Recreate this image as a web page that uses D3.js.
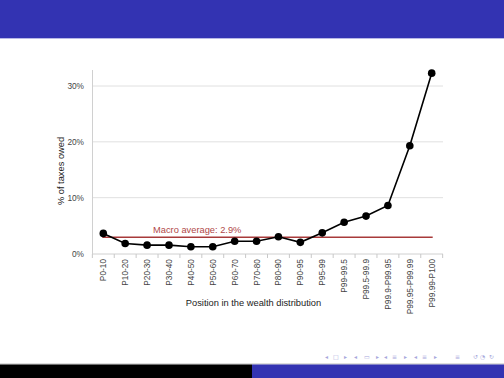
<!DOCTYPE html>
<html><head><meta charset="utf-8">
<script src="https://cdn.jsdelivr.net/npm/d3@7"></script>
<style>body{margin:0;background:#fff}svg{display:block}</style>
</head><body>
<svg id="c" width="504" height="378"></svg>
<script>
const categories = ["P0-10","P10-20","P20-30","P30-40","P40-50","P50-60","P60-70","P70-80","P80-90","P90-95","P95-99","P99-99.5","P99.5-99.9","P99.9-P99.95","P99.95-P99.99","P99.99-P100"];
const values = [3.6, 1.8, 1.5, 1.5, 1.2, 1.2, 2.2, 2.2, 3.0, 2.0, 3.7, 5.6, 6.7, 8.6, 19.3, 32.3];
const macroAverage = 2.9;
const yTicks = [0, 10, 20, 30];
const macroLabel = "Macro average: 2.9%";

const svg = d3.select("#c");
// beamer frame
svg.append("rect").attr("x",0).attr("y",0).attr("width",504).attr("height",38).attr("fill","#3333B2");
svg.append("rect").attr("x",0).attr("y",38).attr("width",504).attr("height",1).attr("fill","#b8b8e6");
svg.append("rect").attr("x",0).attr("y",363.5).attr("width",504).attr("height",1).attr("fill","#bbbbbb");
svg.append("rect").attr("x",0).attr("y",364.5).attr("width",252).attr("height",14).attr("fill","#000");
svg.append("rect").attr("x",252).attr("y",364.5).attr("width",252).attr("height",14).attr("fill","#3333B2");
// nav symbols
const nav = svg.append("g").attr("fill","#a8a8dc").attr("font-family","DejaVu Sans").attr("font-size",6);
[["◂",325],["□",333],["▸",344],["◂",354],["▭",364],["▸",376],["◂",384],["≡",392],["▸",404],["◂",414],["≡",422],["▸",434],["≡",455],["↺",473],["◔",480],["↻",489]].forEach(([t,x])=>{
  nav.append("text").attr("x",x).attr("y",359).text(t);
});

const x = d3.scalePoint().domain(categories).range([103.3, 431.7]);
const y = d3.scaleLinear().domain([0, 30]).range([253.5, 86]);
const step = x.step();

// gridlines
svg.append("g").selectAll("line").data(yTicks.filter(d=>d>0)).join("line")
  .attr("x1",93).attr("x2",443).attr("y1",d=>y(d)).attr("y2",d=>y(d))
  .attr("stroke","#e0e0e0").attr("stroke-width",1);

// y axis
svg.append("line").attr("x1",92.5).attr("x2",92.5).attr("y1",70).attr("y2",254).attr("stroke","#d0d0d0");
svg.append("g").selectAll("text").data(yTicks).join("text")
  .attr("x",84).attr("y",d=>y(d)+3).attr("text-anchor","end")
  .attr("font-family","Liberation Sans").attr("font-size",8.3).attr("fill","#444")
  .text(d=>d+"%");
svg.append("line").attr("x1",92.5).attr("x2",443).attr("y1",254).attr("y2",254).attr("stroke","#d0d0d0");

// x ticks at boundaries
const bounds = d3.range(categories.length+1).map(i=>103.3 - step/2 + i*step);
svg.append("g").selectAll("line").data(bounds).join("line")
  .attr("x1",d=>d).attr("x2",d=>d).attr("y1",254).attr("y2",258)
  .attr("stroke","#c8c8c8");

// x labels
svg.append("g").selectAll("text").data(categories).join("text")
  .attr("transform",d=>`translate(${x(d)+3},259) rotate(-90)`)
  .attr("text-anchor","end")
  .attr("font-family","Liberation Sans").attr("font-size",8.3).attr("fill","#444")
  .text(d=>d);

// titles
svg.append("text").attr("transform","translate(64,171) rotate(-90)").attr("text-anchor","middle")
  .attr("font-family","Liberation Sans").attr("font-size",9.3).attr("fill","#222").text("% of taxes owed");
svg.append("text").attr("x",253.5).attr("y",306).attr("text-anchor","middle")
  .attr("font-family","Liberation Sans").attr("font-size",9.3).attr("fill","#222").text("Position in the wealth distribution");

// macro average
svg.append("line").attr("x1",x(categories[0])-1).attr("x2",x(categories[categories.length-1])+1)
  .attr("y1",y(macroAverage)).attr("y2",y(macroAverage)).attr("stroke","#a83a3a").attr("stroke-width",1.5);
svg.append("text").attr("x",153).attr("y",233).attr("font-family","Liberation Sans").attr("font-size",9.3)
  .attr("fill","#b04848").text(macroLabel);

// line + points
const line = d3.line().x((d,i)=>x(categories[i])).y(d=>y(d));
svg.append("path").datum(values).attr("d",line).attr("fill","none").attr("stroke","#000").attr("stroke-width",1.6);
svg.append("g").selectAll("circle").data(values).join("circle")
  .attr("cx",(d,i)=>x(categories[i])).attr("cy",d=>y(d)).attr("r",3.8).attr("fill","#000");
</script>
</body></html>
